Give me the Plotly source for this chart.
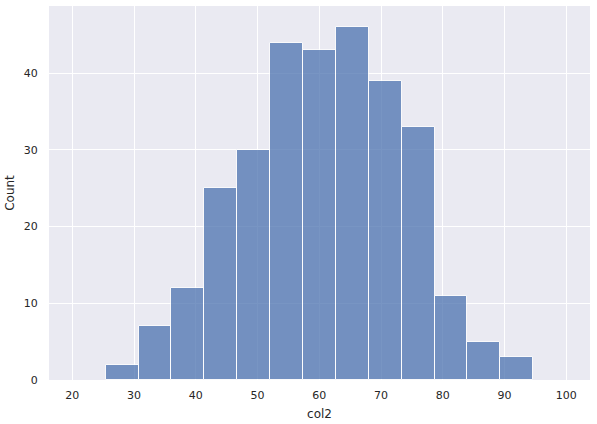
import plotly.graph_objects as go

# Histogram data
bin_start = 25.41
bin_width = 5.326
counts = [2, 7, 12, 25, 30, 44, 43, 46, 39, 33, 11, 5, 3]
x_ticks = [20, 30, 40, 50, 60, 70, 80, 90, 100]
y_ticks = [0, 10, 20, 30, 40]

lefts = [bin_start + i * bin_width for i in range(len(counts))]
centers = [l + bin_width / 2 for l in lefts]

fig = go.Figure()
fig.add_trace(go.Bar(
    x=centers, y=counts, width=[bin_width] * len(counts),
    marker=dict(color="#4c72b0", opacity=0.75, line=dict(color="white", width=1)),
    hoverinfo="x+y",
))

font = "DejaVu Sans, sans-serif"
fig.update_layout(
    width=597, height=424,
    margin=dict(l=49, r=7, t=6, b=44),
    paper_bgcolor="white", plot_bgcolor="#eaeaf2",
    font=dict(family=font, size=11, color="#262626"),
    showlegend=False,
    bargap=0,
    xaxis=dict(
        range=[16.23, 103.84], tickvals=x_ticks, showgrid=True, gridcolor="white", gridwidth=1,
        zeroline=False, showline=False, ticks="outside", ticklen=5, tickcolor="rgba(0,0,0,0)",
        automargin=False,
        title=dict(text="col2", font=dict(size=12, family=font, color="#262626"), standoff=8),
    ),
    yaxis=dict(
        range=[0, 48.76], tickvals=y_ticks, showgrid=True, gridcolor="white", gridwidth=1,
        zeroline=False, showline=False, ticks="outside", ticklen=8, tickcolor="rgba(0,0,0,0)",
        automargin=False,
        title=dict(text="Count", font=dict(size=12, family=font, color="#262626"), standoff=6),
    ),
)

fig.write_html("out.html", config={"displayModeBar": False},
               post_script="document.body.style.margin='0';")
